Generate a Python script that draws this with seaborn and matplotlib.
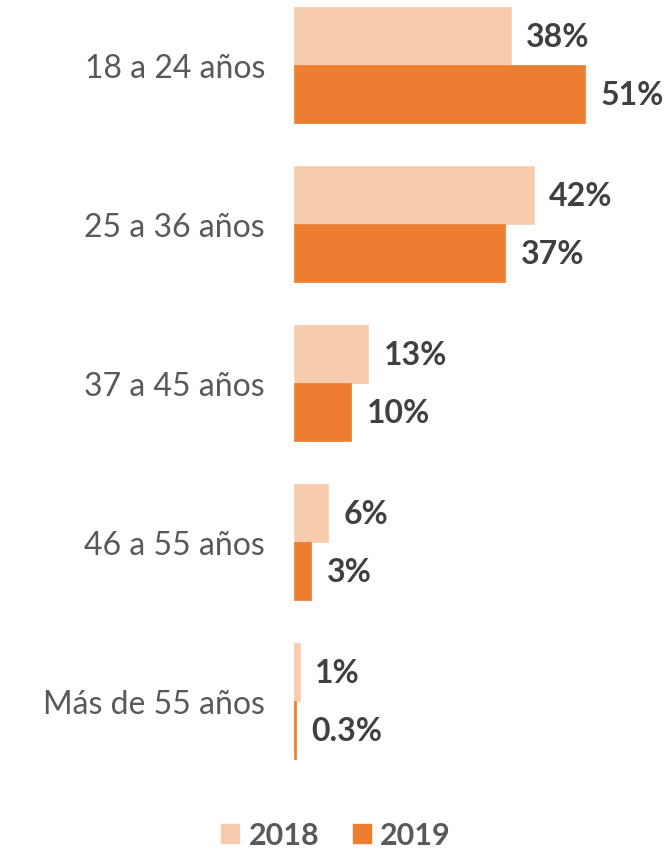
import pandas as pd
import seaborn as sns
import matplotlib.pyplot as plt

categories = ['18 a 24 años', '25 a 36 años', '37 a 45 años', '46 a 55 años', 'Más de 55 años']
years = ['2018', '2019']
values_2018 = [38, 42, 13, 6, 1]
values_2019 = [51, 37, 10, 3, 0.3]
labels_2018 = ['38%', '42%', '13%', '6%', '1%']
labels_2019 = ['51%', '37%', '10%', '3%', '0.3%']

colors = {'2018': '#F8CBAD', '2019': '#ED7D31'}

df = pd.DataFrame({
    'Edad': categories * 2,
    'Año': ['2018'] * len(categories) + ['2019'] * len(categories),
    'Valor': values_2018 + values_2019,
})

sns.set_theme(style='white')
plt.rcParams['font.family'] = ['Lato', 'DejaVu Sans']

fig = plt.figure(figsize=(6.64, 8.54), dpi=100)
ax = fig.add_axes([0.443, 0.0867, 0.557, 0.913])

sns.barplot(data=df, y='Edad', x='Valor', hue='Año', order=categories,
            hue_order=years, palette=colors, width=0.73, orient='h',
            saturation=1, ax=ax, legend=False)
for p in ax.patches:
    p.set_edgecolor(p.get_facecolor())
    p.set_linewidth(0.5)

for cont, labs in zip(ax.containers, [labels_2018, labels_2019]):
    ax.bar_label(cont, labels=labs, padding=11, fontsize=23, fontweight='bold',
                 color='#404040')

ax.set_xlim(0, 64.8)
ax.set_ylim(4.49, -0.415)
ax.set_xlabel('')
ax.set_ylabel('')
ax.set_xticks([])
for s in ax.spines.values():
    s.set_visible(False)
ax.tick_params(axis='y', length=0, pad=21)
for t in ax.get_yticklabels():
    t.set_fontsize(23)
    t.set_fontweight('normal')
    t.set_color('#595959')

handles = [plt.Rectangle((0, 0), 1, 1, color=colors[y]) for y in years]
fig.legend(handles, years, loc='center', bbox_to_anchor=(336 / 664, 1 - 836 / 854),
           ncol=2, frameon=False, handlelength=0.6, handleheight=0.6,
           handletextpad=0.3, columnspacing=1.1,
           prop={'size': 22, 'weight': 'bold'}, labelcolor='#595959')

fig.savefig('out.png', dpi=100)
